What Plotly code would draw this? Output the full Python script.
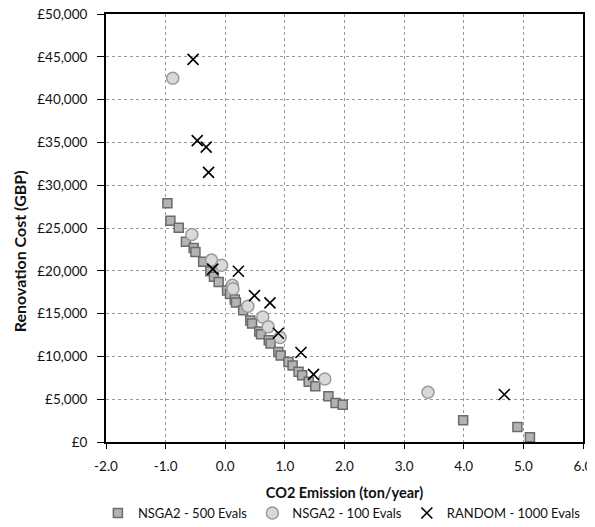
import plotly.graph_objects as go

# NSGA2 - 500 Evals (squares)
sq_x = [-0.97, -0.92, -0.78, -0.66, -0.53, -0.50, -0.37, -0.25, -0.19, -0.11, 0.03, 0.08,
        0.16, 0.18, 0.30, 0.42, 0.45, 0.57, 0.60, 0.73, 0.76, 0.89, 0.93, 1.06, 1.13,
        1.23, 1.29, 1.40, 1.51, 1.73, 1.85, 1.97, 3.99, 4.90, 5.11]
sq_y = [27900, 25850, 25030, 23400, 22650, 22200, 21050, 19950, 19300, 18700, 17700, 17300,
        16650, 16300, 15400, 14200, 13850, 12900, 12600, 11900, 11500, 10500, 10100, 9350, 8950,
        8200, 7800, 7050, 6500, 5350, 4550, 4350, 2550, 1750, 550]

# NSGA2 - 100 Evals (circles)
ci_x = [-0.88, -0.56, -0.23, -0.06, 0.12, 0.13, 0.38, 0.63, 0.72, 0.92, 1.67, 3.40]
ci_y = [42500, 24250, 21250, 20650, 18300, 17900, 15850, 14600, 13450, 12200, 7350, 5800]

# RANDOM - 1000 Evals (crosses)
rx_x = [-0.54, -0.47, -0.32, -0.28, -0.21, 0.22, 0.49, 0.75, 0.89, 1.27, 1.48, 4.68]
rx_y = [44700, 35200, 34450, 31500, 20200, 19950, 17100, 16250, 12700, 10450, 7900, 5550]

x_ticks = [-2.0, -1.0, 0.0, 1.0, 2.0, 3.0, 4.0, 5.0, 6.0]
y_ticks = [0, 5000, 10000, 15000, 20000, 25000, 30000, 35000, 40000, 45000, 50000]
y_labels = ["£0"] + ["£{:,}".format(v) for v in y_ticks[1:]]

fig = go.Figure()
fig.add_trace(go.Scatter(
    x=sq_x, y=sq_y, mode="markers", name="NSGA2 - 500 Evals",
    marker=dict(symbol="square", size=9, color="#b3b3b3",
                line=dict(color="#6b6b6b", width=1.5))))
fig.add_trace(go.Scatter(
    x=ci_x, y=ci_y, mode="markers", name="NSGA2 - 100 Evals",
    marker=dict(symbol="circle", size=12, color="#d9d9d9",
                line=dict(color="#9a9a9a", width=1.5))))
fig.add_trace(go.Scatter(
    x=rx_x, y=rx_y, mode="markers", name="RANDOM - 1000 Evals",
    marker=dict(symbol="x-thin", size=11, color="black",
                line=dict(color="black", width=1.6))))

# page body has an 8px margin, so the figure is drawn 8px down and right
font_family = "Lato, 'Open Sans', sans-serif"
fig.update_layout(
    width=587, height=519,
    margin=dict(l=98, r=12, t=6, b=85, autoexpand=False),
    paper_bgcolor="white", plot_bgcolor="white",
    font=dict(family=font_family, size=13.5, color="#111"),
    showlegend=True,
    legend=dict(orientation="h", x=-0.017, xanchor="left",
                y=-0.166, yanchor="middle",
                font=dict(size=13, color="#111"), itemwidth=30, tracegroupgap=0),
    annotations=[dict(
        text="<b>Renovation Cost (GBP)</b>", textangle=-90,
        xref="paper", yref="paper", x=-0.182, y=0.446,
        xanchor="center", yanchor="middle", showarrow=False,
        font=dict(size=16, color="#111"))],
)
fig.update_xaxes(
    range=[-2, 6], tickvals=x_ticks, ticktext=["{:.1f}".format(v) for v in x_ticks],
    showgrid=True, gridcolor="#999", griddash="dot", gridwidth=1,
    showline=True, linecolor="black", linewidth=2, mirror=True,
    ticks="outside", ticklen=5, tickcolor="black", zeroline=False,
    ticklabelstandoff=6, automargin=False, ticklabeloverflow="allow",
    title=dict(text="<b>CO2 Emission (ton/year)</b>", font=dict(size=14.5, color="#111"), standoff=15),
)
fig.update_yaxes(
    range=[0, 50000], tickvals=y_ticks, ticktext=y_labels,
    showgrid=True, gridcolor="#999", griddash="dot", gridwidth=1,
    showline=True, linecolor="black", linewidth=2, mirror=True,
    ticks="outside", ticklen=7, tickcolor="black", zeroline=False,
    ticklabelstandoff=7, automargin=False, ticklabeloverflow="allow",
)

fig.write_html("out.html")
